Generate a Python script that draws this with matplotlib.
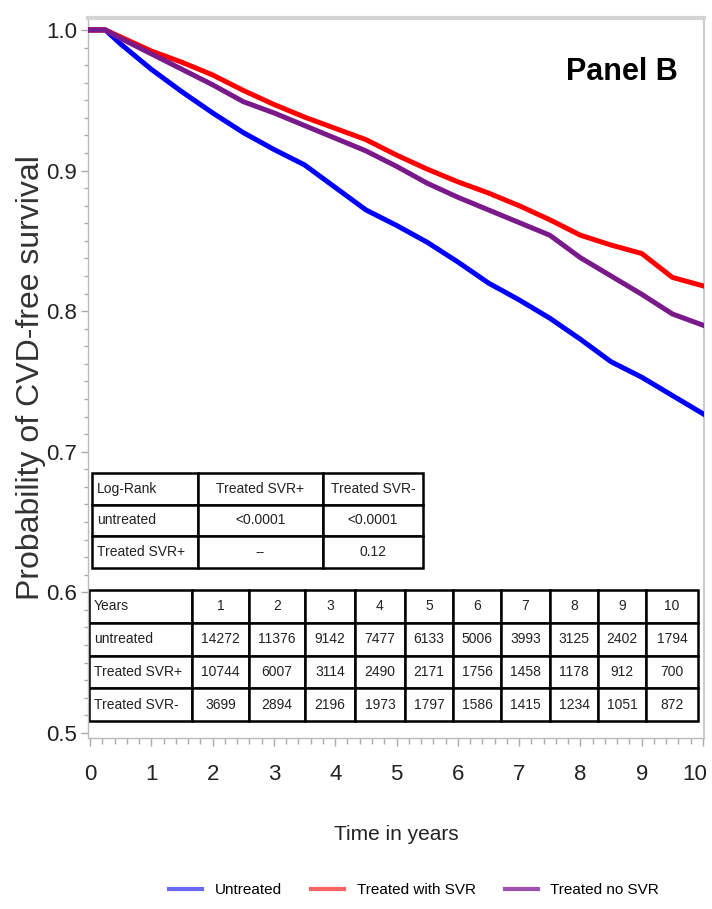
import matplotlib
matplotlib.use("Agg")
import matplotlib.pyplot as plt
from matplotlib.lines import Line2D
from matplotlib.ticker import MultipleLocator, FormatStrFormatter
from matplotlib.transforms import ScaledTranslation

# Kaplan-Meier style curves
years = [0, 0.25, 0.5, 1, 1.5, 2, 2.5, 3, 3.5, 4, 4.5, 5, 5.5, 6, 6.5, 7, 7.5, 8, 8.5, 9, 9.5, 10]
untreated = [1.0, 1.0, 0.990, 0.972, 0.956, 0.941, 0.927, 0.915, 0.904, 0.888, 0.872, 0.861, 0.849,
             0.835, 0.820, 0.808, 0.795, 0.780, 0.764, 0.753, 0.740, 0.727]
treated_svr = [1.0, 1.0, 0.995, 0.985, 0.977, 0.968, 0.957, 0.947, 0.938, 0.930, 0.922, 0.911, 0.901,
               0.892, 0.884, 0.875, 0.865, 0.854, 0.847, 0.841, 0.824, 0.818]
treated_nosvr = [1.0, 1.0, 0.994, 0.983, 0.972, 0.961, 0.949, 0.941, 0.932, 0.923, 0.914, 0.903, 0.891,
                 0.881, 0.872, 0.863, 0.854, 0.838, 0.825, 0.812, 0.798, 0.790]

# Log-rank p-values table
lr_header = ["Log-Rank", "Treated SVR+", "Treated SVR-"]
lr_rows = [["untreated", "<0.0001", "<0.0001"],
           ["Treated SVR+", "--", "0.12"]]

# Number at risk table
risk_years = [1, 2, 3, 4, 5, 6, 7, 8, 9, 10]
risk_untreated = [14272, 11376, 9142, 7477, 6133, 5006, 3993, 3125, 2402, 1794]
risk_svr_pos = [10744, 6007, 3114, 2490, 2171, 1756, 1458, 1178, 912, 700]
risk_svr_neg = [3699, 2894, 2196, 1973, 1797, 1586, 1415, 1234, 1051, 872]

plt.rcParams["font.family"] = ["Liberation Sans", "DejaVu Sans"]

fig = plt.figure(figsize=(7.12, 9.09), dpi=100)
W, H = 712, 909
ax = fig.add_axes([88 / W, (H - 738) / H, 616 / W, 720 / H])

ax.plot(years, untreated, color="#0000ff", lw=3.6, zorder=3)
ax.plot(years, treated_svr, color="#ff0000", lw=3.6, zorder=3)
ax.plot(years, treated_nosvr, color="#7a1a8a", lw=3.6, zorder=4)

ax.set_xlim(-0.033, 10.016)
ax.set_ylim(0.4964, 1.0085)
ax.xaxis.set_major_locator(MultipleLocator(1))
ax.xaxis.set_minor_locator(MultipleLocator(0.2))
ax.yaxis.set_major_locator(MultipleLocator(0.1))
ax.yaxis.set_minor_locator(MultipleLocator(0.0125))
ax.yaxis.set_major_formatter(FormatStrFormatter("%.1f"))

ax.tick_params(axis="both", which="both", color="#aaaaaa", direction="out")
ax.tick_params(axis="x", which="major", length=6, width=1, pad=13, labelsize=16, labelcolor="#222222")
ax.tick_params(axis="x", which="minor", length=4, width=1)
ax.tick_params(axis="y", which="major", length=5, width=1, pad=3, labelsize=16, labelcolor="#222222")
ax.tick_params(axis="y", which="minor", length=3, width=1)

# nudge the "10" label so it stays inside the figure
locs = ax.xaxis.get_majorticklocs()
for loc, tick in zip(locs, ax.xaxis.get_major_ticks(len(locs))):
    if abs(loc - 10) < 1e-6:
        tick.label1.set_transform(tick.label1.get_transform()
                                  + ScaledTranslation(-6 / 72, 0, fig.dpi_scale_trans))

for side in ["left", "bottom"]:
    ax.spines[side].set_color("#bbbbbb")
    ax.spines[side].set_linewidth(1)
ax.spines["top"].set_color("#d4d4d4")
ax.spines["top"].set_linewidth(3)
ax.spines["right"].set_color("#cccccc")
ax.spines["right"].set_linewidth(1.5)

ax.set_ylabel("Probability of CVD-free survival", fontsize=23, color="#333333")
ax.yaxis.set_label_coords(-0.068, 0.5)
ax.set_xlabel("Time in years", fontsize=15, color="#222222")
ax.xaxis.set_label_coords(0.5, -0.121)

ax.text(0.867, 0.925, "Panel B", transform=ax.transAxes, fontsize=22,
        fontweight="bold", ha="center", va="center")


def style_table(tbl, fs):
    tbl.auto_set_font_size(False)
    tbl.set_fontsize(fs)
    for (r, c), cell in tbl.get_celld().items():
        cell.set_edgecolor("black")
        cell.set_linewidth(1.8)
        cell.get_text().set_color("#222222")
        if c == 0:
            cell.PAD = 0.05
            cell.get_text().set_ha("left")


# log-rank table
lr_text = [lr_header] + lr_rows
t1 = ax.table(cellText=lr_text, cellLoc="center", colWidths=[106, 125, 100],
              bbox=[(92 - 88) / 616, (738 - 568) / 720, (423 - 92) / 616, (568 - 473) / 720])
style_table(t1, 10)

# at-risk table
risk_text = [["Years"] + [str(y) for y in risk_years],
             ["untreated"] + [str(v) for v in risk_untreated],
             ["Treated SVR+"] + [str(v) for v in risk_svr_pos],
             ["Treated SVR-"] + [str(v) for v in risk_svr_neg]]
t2 = ax.table(cellText=risk_text, cellLoc="center",
              colWidths=[103, 57, 56, 50, 50, 48, 48, 49, 48, 48, 52],
              bbox=[(89 - 88) / 616, (738 - 721) / 720, (698 - 89) / 616, (721 - 590) / 720])
style_table(t2, 10)

handles = [Line2D([], [], color="#6a6aff", lw=3),
           Line2D([], [], color="#ff6464", lw=3),
           Line2D([], [], color="#a050b0", lw=3)]
fig.legend(handles, ["Untreated", "Treated with SVR", "Treated no SVR"],
           loc="center", bbox_to_anchor=(414 / W, (H - 890) / H), ncol=3, frameon=False,
           fontsize=11, handlelength=2.2, handletextpad=0.8, columnspacing=1.9)

fig.savefig("out.png", dpi=100)
